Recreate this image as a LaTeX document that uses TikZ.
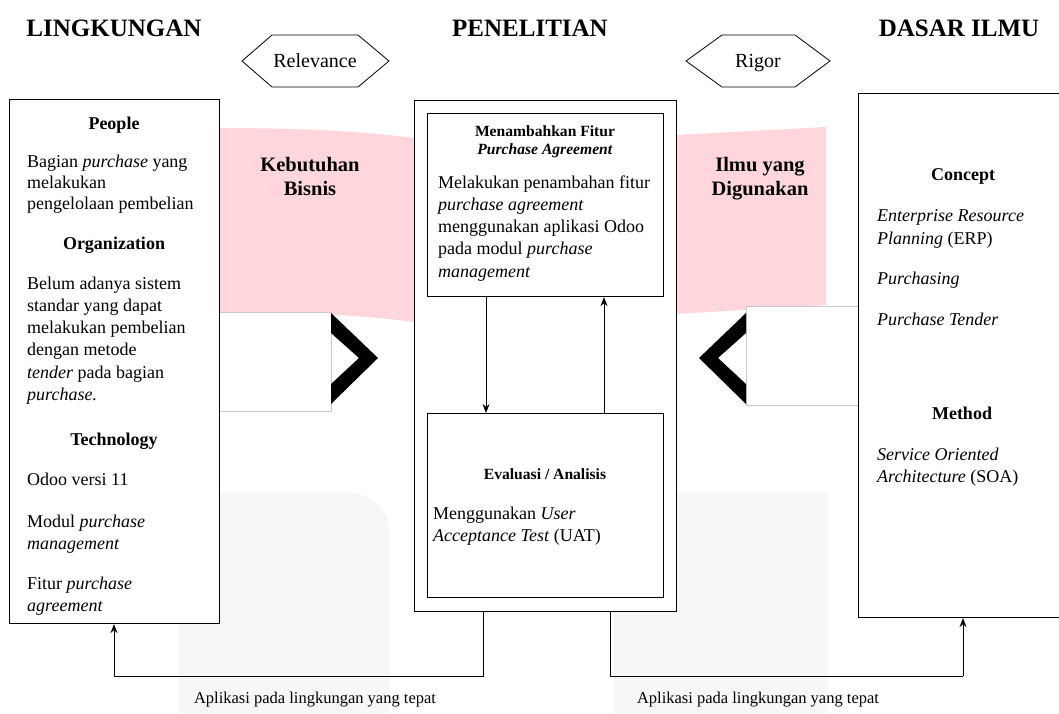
\documentclass[tikz,border=0pt]{standalone}
\usepackage{fontspec}
\setmainfont{Liberation Serif}
\usetikzlibrary{arrows.meta}
\definecolor{pinkbg}{RGB}{255,214,219}
\definecolor{graybg}{RGB}{247,247,247}
\definecolor{thingray}{RGB}{200,200,200}
\newcommand{\fsz}[2]{\fontsize{#1}{#2}\selectfont}
\tikzset{
  box/.style={draw, line width=1.1pt, fill=white, inner sep=0pt, anchor=north west},
  title/.style={font=\fsz{25}{30}\bfseries, anchor=base, inner sep=0pt},
  head/.style={font=\fsz{18}{22}\bfseries, anchor=base, inner sep=0pt},
  shead/.style={font=\fsz{15.6}{18}\bfseries, anchor=base, inner sep=0pt},
  body/.style={font=\fsz{18}{22}, align=left, anchor=north west, inner sep=0pt},
  bline/.style={font=\fsz{18}{22}, anchor=base west, inner sep=0pt},
  pinktxt/.style={font=\fsz{20.5}{24}\bfseries, align=center, anchor=north, inner sep=0pt},
  hextxt/.style={font=\fsz{20}{24}, anchor=base, inner sep=0pt},
  apl/.style={font=\fsz{16.5}{20}, inner sep=0pt},
  arr/.style={line width=1pt, -{Stealth[length=9pt,width=7pt]}},
  conn/.style={line width=1pt},
}
\begin{document}
\begin{tikzpicture}[x=1pt,y=-1pt]
\useasboundingbox (0,0) rectangle (1059,713);
% faint gray backgrounds
\fill[graybg] (178,713) -- (178,493) -- (350,493) arc[start angle=270,end angle=360,radius=40] -- (390,713) -- cycle;
\fill[graybg] (614,493) rectangle (828,713);
% pink bands
\fill[pinkbg] (218,128) .. controls (300,128) and (360,131) .. (414,138) -- (414,322) .. controls (360,315) and (300,312) .. (218,312) -- cycle;
\fill[pinkbg] (676,135) -- (826,127) -- (826,305) -- (676,314) -- cycle;
% white rectangles with thin border
\draw[thingray, fill=white, line width=0.5pt] (218,312) rectangle (331,411);
\draw[thingray, fill=white, line width=0.5pt] (746,306) rectangle (858,405);
% chevrons
\fill[black] (331,313) -- (378,358) -- (331,404) -- (331,384) -- (359,358) -- (331,333) -- cycle;
\fill[black] (746,313) -- (699,358) -- (746,404) -- (746,384) -- (718,358) -- (746,333) -- cycle;
% titles
\node[title] (t1) at (114,36) {LINGKUNGAN};
\node[title] (t2) at (530,36) {PENELITIAN};
\node[title] (t3) at (959,36) {DASAR ILMU};
% hexagons
\draw[line width=0.8pt] (242,61) -- (272,35) -- (358,35) -- (389,61) -- (358,87) -- (272,87) -- cycle;
\node[hextxt] (rel) at (315,67.5) {Relevance};
\draw[line width=0.8pt] (686,61) -- (722,35) -- (795,35) -- (830,61) -- (795,87) -- (722,87) -- cycle;
\node[hextxt] (rig) at (758,67.5) {Rigor};
% boxes
\node[box, minimum width=210pt, minimum height=524pt] (lbox) at (9,99) {};
\node[box, minimum width=262pt, minimum height=511pt] (mout) at (414,100) {};
\node[box, minimum width=236pt, minimum height=183pt] (mtop) at (427,113) {};
\node[box, minimum width=236pt, minimum height=184pt] (mbot) at (427,413) {};
\node[box, minimum width=210pt, minimum height=524pt] (rbox) at (858,93) {};
% pink texts
\node[pinktxt] (kb) at (310,157) {Kebutuhan\\Bisnis};
\node[pinktxt] (iy) at (760,157) {Ilmu yang\\Digunakan};
% left box text
\node[head] (hp) at (114,129) {People};
\node[body, font=\fsz{18}{21}] (lp1) at (27,152.6) {\strut Bagian \textit{purchase} yang\\melakukan\\pengelolaan pembelian};
\node[head] (ho) at (114,249) {Organization};
\node[body, font=\fsz{18}{22.2}] (lp2) at (27,273.6) {\strut Belum adanya sistem\\standar yang dapat\\melakukan pembelian\\dengan metode\\\textit{tender} pada bagian\\\textit{purchase.}};
\node[head] (ht) at (114,445) {Technology};
\node[bline] (lp3) at (27,485) {Odoo versi 11};
\node[body] (lp4) at (27,511.6) {\strut Modul \textit{purchase}\\\textit{management}};
\node[body] (lp5) at (27,573.6) {\strut Fitur \textit{purchase}\\\textit{agreement}};
% middle top box text
\node[shead] (mh1) at (545,136) {Menambahkan Fitur};
\node[shead] (mh2) at (545,154) {\textit{Purchase Agreement}};
\node[body, font=\fsz{18}{22.2}] (mt) at (438,172.6) {\strut Melakukan penambahan fitur\\\textit{purchase agreement}\\menggunakan aplikasi Odoo\\pada modul \textit{purchase}\\\textit{management}};
% middle bottom box text
\node[shead] (mh3) at (545,479) {Evaluasi / Analisis};
\node[body] (mb) at (433,503.6) {\strut Menggunakan \textit{User}\\\textit{Acceptance Test} (UAT)};
% right box text
\node[head] (hc) at (963,180) {Concept};
\node[body, font=\fsz{18}{23}] (rc1) at (877,205.6) {\strut\textit{Enterprise Resource}\\\textit{Planning} (ERP)};
\node[bline] (rc2) at (877,284) {\textit{Purchasing}};
\node[bline] (rc3) at (877,325) {\textit{Purchase Tender}};
\node[head] (hm) at (962,419) {Method};
\node[body] (rm1) at (877,444.6) {\strut\textit{Service Oriented}\\\textit{Architecture} (SOA)};
% inner arrows
\coordinate (xa) at (486,0);
\coordinate (xb) at (604,0);
\draw[arr] (mtop.south -| xa) -- (mbot.north -| xa);
\draw[arr] (mbot.north -| xb) -- (mtop.south -| xb);
% bottom connectors
\coordinate (c1) at (483,676);
\coordinate (c2) at (114,676);
\coordinate (c3) at (610,676);
\coordinate (c4) at (963,676);
\draw[conn] (mout.south -| c1) -- (c1) -- (c2);
\draw[arr] (c2) -- (lbox.south -| c2);
\draw[conn] (mout.south -| c3) -- (c3) -- (c4);
\draw[arr] (c4) -- (rbox.south -| c4);
\node[apl] (ap1) at (315,700) {Aplikasi pada lingkungan yang tepat};
\node[apl] (ap2) at (758,700) {Aplikasi pada lingkungan yang tepat};
\end{tikzpicture}
\end{document}
